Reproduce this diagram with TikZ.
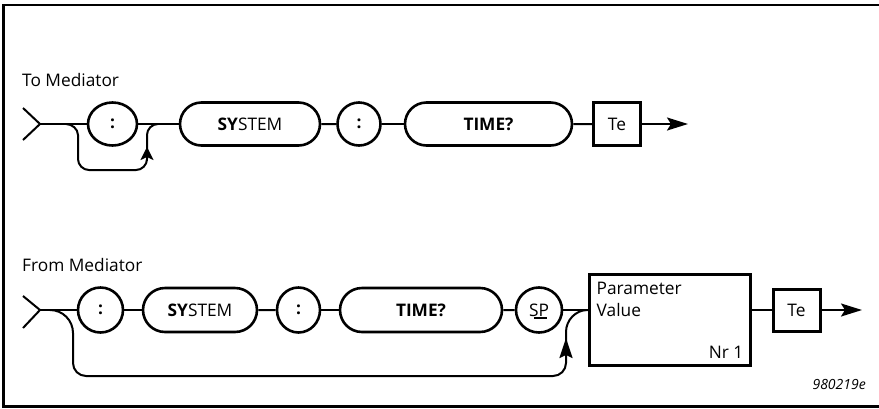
\documentclass[tikz,border=0pt]{standalone}
\usepackage{fontspec}
\setmainfont{Open Sans}
\usetikzlibrary{shapes.misc,shapes.geometric,arrows.meta,calc}
\begin{document}
\begin{tikzpicture}[x=1pt,y=-1pt,
  every node/.style={font=\fontsize{17.3}{20}\selectfont, inner sep=0pt},
  conn/.style={line width=2pt},
  pill/.style={draw, line width=2.6pt, rounded rectangle, minimum height=43pt},
  colon/.style={draw, line width=2.6pt, ellipse, minimum height=43pt},
  tebox/.style={draw, line width=3pt, rectangle, minimum width=47pt, minimum height=43pt},
  pvbox/.style={draw, line width=3pt, rectangle, minimum width=161pt, minimum height=91pt},
  endarrow/.style={conn, -{Stealth[length=21pt,width=13pt,inset=4pt]}},
  loopup/.style={line width=2pt, -{Stealth[length=#1,width=13pt,inset=3pt]}},
  lbl/.style={anchor=base west}
]
\useasboundingbox (0,0) rectangle (879,408);
% frame
\draw[line width=2.6pt] (879,5) -- (3.7,5) -- (3.7,406.5) -- (879,406.5);

% ---------- To Mediator ----------
\node[lbl] (tmlabel) at (22,86) {To Mediator};
\coordinate (in1) at (40,124);
\draw[conn] (23,108) -- (in1) -- (23,140);
\node[colon, minimum width=49pt] (c1) at (112.5,124) {\textbf{:}};
\node[pill, minimum width=140pt] (sys1) at (250,124) {\textbf{SY}STEM};
\node[colon, minimum width=43pt] (c2) at (359,124) {\textbf{:}};
\node[pill, minimum width=167pt] (time1) at (488.5,124) {\textbf{TIME?}};
\node[tebox] (te1) at (617,124) {Te};
\coordinate (out1) at (688,124);
\draw[conn] (in1) -- (c1);
\draw[conn] (c1) -- (sys1);
\draw[conn] (sys1) -- (c2);
\draw[conn] (c2) -- (time1);
\draw[conn] (time1) -- (te1);
\draw[endarrow] (te1) -- (out1);
% bypass
\coordinate (b1s) at (66,124);
\coordinate (b1e) at (158,124);
\draw[conn] (b1s) .. controls (72,124) and (78,129) .. (78,135)
  -- (78,159) .. controls (78,165) and (83,170) .. (89,170)
  -- (136,170) .. controls (142,170) and (147,165) .. (147,159)
  -- (147,135) .. controls (147,129) and (152,124) .. (b1e);
\draw[loopup=13pt] (147,161) -- (147,147);

% ---------- From Mediator ----------
\node[lbl] (fmlabel) at (22,271) {From Mediator};
\coordinate (in2) at (40,310);
\draw[conn] (23,296) -- (in2) -- (23,328);
\node[colon, minimum width=45pt, minimum height=45pt] (c3) at (100.5,310) {\textbf{:}};
\node[pill, minimum width=114pt, minimum height=44pt] (sys2) at (200,310) {\textbf{SY}STEM};
\node[colon, minimum width=43pt, minimum height=45pt] (c4) at (298.5,310) {\textbf{:}};
\node[pill, minimum width=162pt, minimum height=44pt] (time2) at (421,310) {\textbf{TIME?}};
\node[colon, minimum width=46pt, minimum height=45pt] (sp) at (539,310) {SP};
\draw[line width=1.7pt] ([shift={(-5,8)}]sp.center) -- ([shift={(8,8)}]sp.center);
\node[pvbox] (pv) at (669.5,319.5) {};
\node[lbl] (pvt1) at ([shift={(9,22)}]pv.north west) {Parameter};
\node[lbl] (pvt2) at ([shift={(9,44)}]pv.north west) {Value};
\node[anchor=base east] (pvnr) at ([shift={(-8,-8)}]pv.south east) {Nr 1};
\node[tebox, minimum height=42pt] (te2) at (796.5,310) {Te};
\coordinate (out2) at (862,310);
\coordinate (pvin) at (sp -| pv.west);
\draw[conn] (in2) -- (c3);
\draw[conn] (c3) -- (sys2);
\draw[conn] (sys2) -- (c4);
\draw[conn] (c4) -- (time2);
\draw[conn] (time2) -- (sp);
\draw[conn] (sp) -- (pvin);
\draw[conn] (te2 -| pv.east) -- (te2);
\draw[endarrow] (te2) -- (out2);
% bypass
\coordinate (b2s) at (50,310);
\draw[conn] (b2s) .. controls (62.7,310) and (73,320.3) .. (73,333)
  -- (73,363) .. controls (73,370.2) and (78.8,376) .. (86,376)
  -- (553,376) .. controls (560.2,376) and (566,370.2) .. (566,363)
  -- (566,332) .. controls (566,319.9) and (575.9,310) .. (pvin);
\draw[loopup=20pt] (566,359) -- (566,338);

\node[anchor=base east, font=\fontsize{14}{16}\selectfont\itshape] (code) at (866,389) {980219e};
\end{tikzpicture}
\end{document}
